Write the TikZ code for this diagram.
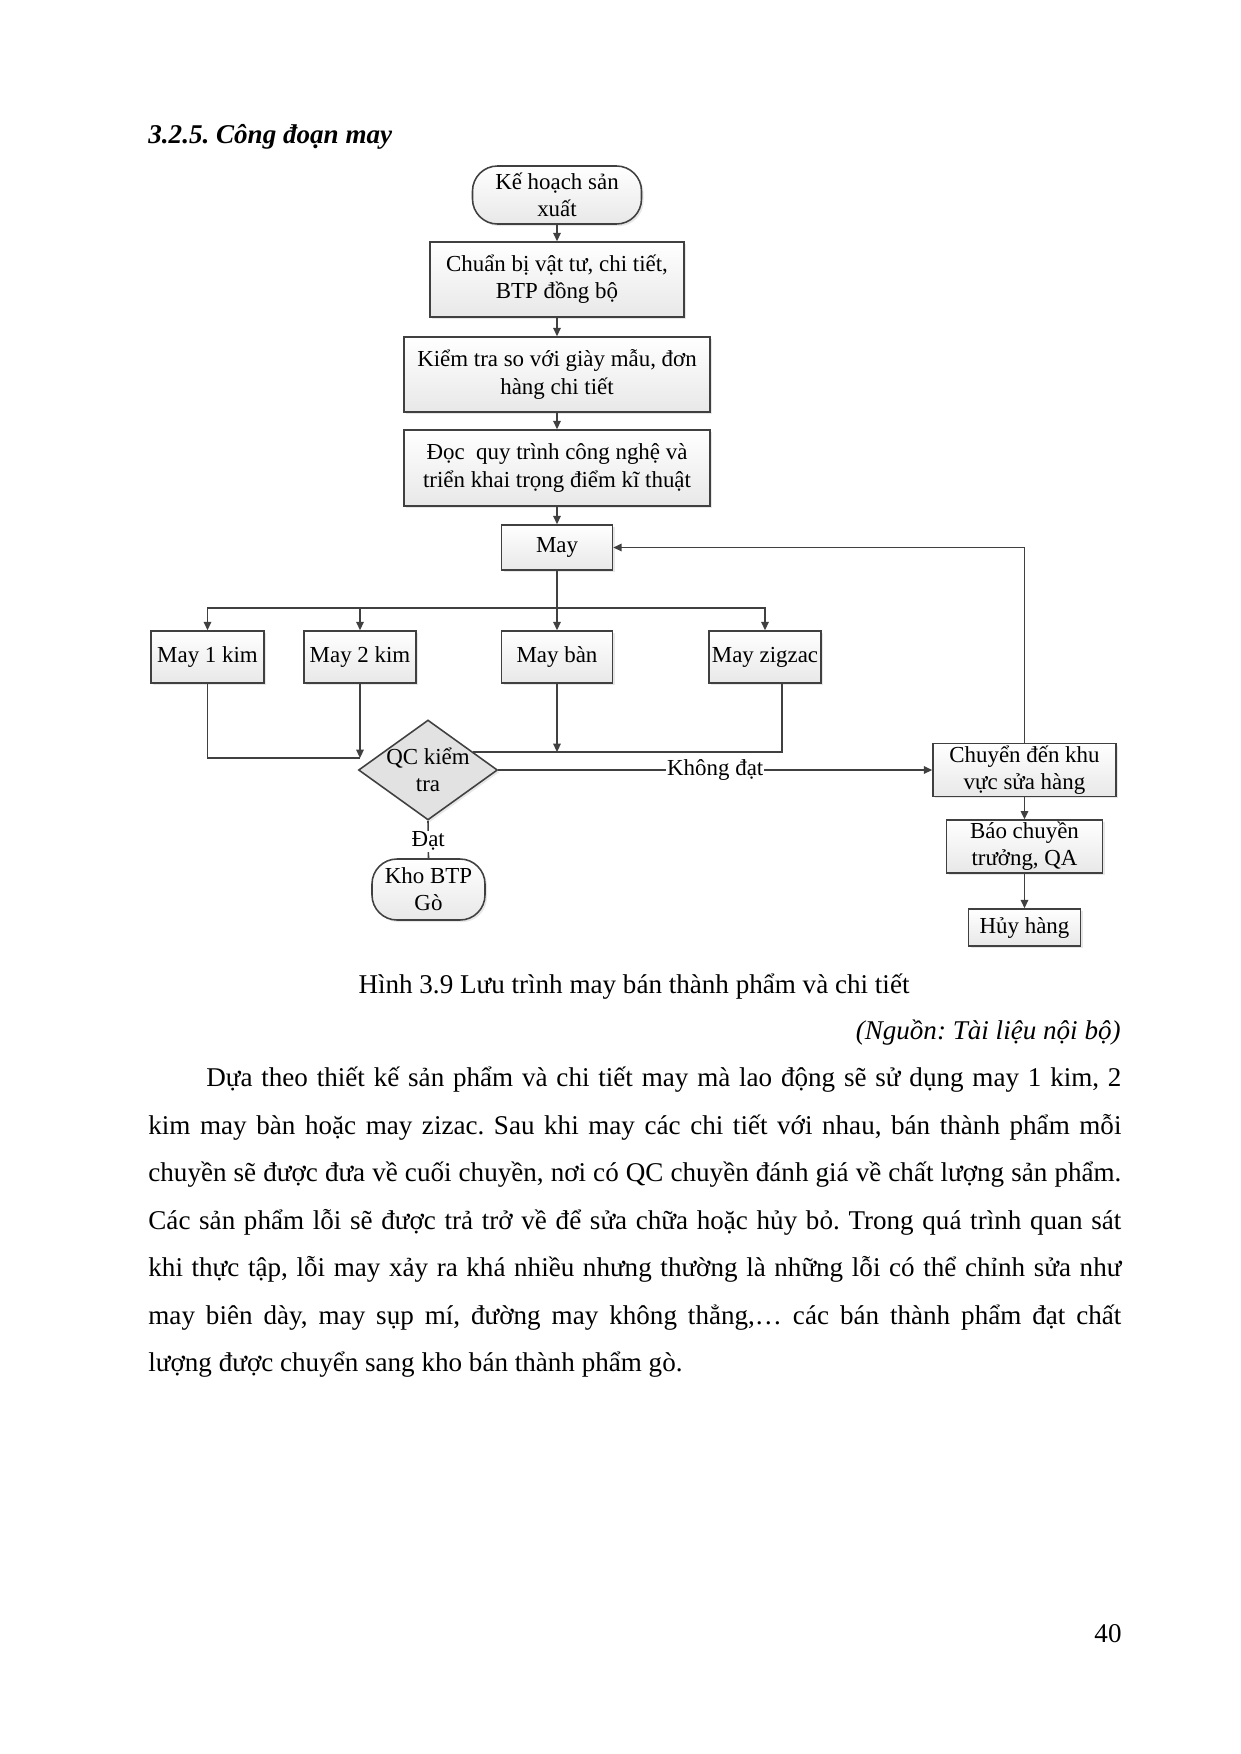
\documentclass[tikz,border=0pt]{standalone}
\usepackage{fontspec}
\setmainfont{Liberation Serif}
\usetikzlibrary{arrows.meta,shapes.geometric,shadows}
\frenchspacing
\def\pxx{*0.16933mm}
\definecolor{lineC}{HTML}{404040}
\definecolor{boxB}{HTML}{E8E8E8}
\definecolor{decF}{HTML}{E2E2E2}
\begin{document}
\begin{tikzpicture}[x=0.16933mm, y=-0.16933mm,
  font=\fontsize{11bp}{13bp}\selectfont,
  box/.style={draw=lineC, line width=0.75bp, top color=white, bottom color=boxB,
    align=center, inner sep=1bp,
    drop shadow={shadow xshift=1bp, shadow yshift=-1bp, fill=black!18}},
  term/.style={box, rounded corners=12bp},
  dec/.style={shape=diamond, draw=lineC, line width=0.75bp, fill=decF, align=center,
    inner sep=0pt, aspect=1.39, minimum width=139\pxx, minimum height=100\pxx,
    drop shadow={shadow xshift=1bp, shadow yshift=-1bp, fill=black!18}},
  conn/.style={draw=lineC, line width=0.75bp},
  arr/.style={conn, -{Triangle[length=4bp,width=3.6bp]}},
  lab/.style={fill=white, inner sep=0.5bp, font=\fontsize{11bp}{13bp}\selectfont},
  body/.style={font=\fontsize{13bp}{22.8bp}\selectfont, inner sep=0pt}
]
\useasboundingbox[fill=white] (0,0) rectangle (1240,1754);

% heading
\node[body, anchor=base west, font=\fontsize{13bp}{22.8bp}\selectfont\bfseries\itshape] (title) at (148,143) {3.2.5. Công đoạn may};

% flowchart nodes
\node[term, minimum width=169\pxx, minimum height=58\pxx] (start) at (557,195) {Kế hoạch sản\\xuất};
\node[box, minimum width=254\pxx, minimum height=75\pxx] (prep) at (557,279.5) {Chuẩn bị vật tư, chi tiết,\\BTP đồng bộ};
\node[box, minimum width=306\pxx, minimum height=75\pxx] (check) at (557,374.5) {Kiểm tra so với giày mẫu, đơn\\hàng chi tiết};
\node[box, minimum width=306\pxx, minimum height=76\pxx] (read) at (557,468) {Đọc\ \ quy trình công nghệ và\\triển khai trọng điểm kĩ thuật};
\node[box, minimum width=111\pxx, minimum height=45\pxx] (may) at (557,547.5) {May};

\node[box, minimum width=113\pxx, minimum height=52\pxx] (m1) at (207.5,657) {May 1 kim};
\node[box, minimum width=112\pxx, minimum height=52\pxx] (m2) at (360,657) {May 2 kim};
\node[box, minimum width=111\pxx, minimum height=52\pxx] (mban) at (557,657) {May bàn};
\node[box, minimum width=112\pxx, minimum height=52\pxx] (mzz) at (765,657) {May zigzac};

\node[dec] (qc) at (428,770) {\makebox[0pt]{QC kiểm}\\\makebox[0pt]{tra}};
\node[term, minimum width=113\pxx, minimum height=61\pxx] (kho) at (428.5,889.5) {Kho BTP\\Gò};

\node[box, minimum width=183\pxx, minimum height=51\pxx] (rep) at (1024.5,770) {Chuyển đến khu\\vực sửa hàng};
\node[box, minimum width=156\pxx, minimum height=49\pxx] (bao) at (1024.5,846.5) {Báo chuyền\\trưởng, QA};
\node[box, minimum width=112\pxx, minimum height=37\pxx] (huy) at (1024.5,927.5) {Hủy hàng};

% helper coordinates
\coordinate (br) at (557,608);
\coordinate (j2) at (360,758);
\coordinate (jb) at (557,752);
\coordinate (jq) at (473,752);
\coordinate (zb) at (782,683);

% connectors
\draw[arr] (start) -- (prep);
\draw[arr] (prep) -- (check);
\draw[arr] (check) -- (read);
\draw[arr] (read) -- (may);
\draw[arr] (may) -- (mban);
\draw[arr] (br) -| (m1.north);
\draw[arr] (br) -| (m2.north);
\draw[arr] (br) -| (mzz.north);
\draw[conn] (m1.south) |- (j2);
\draw[arr] (m2.south) -- (j2);
\draw[arr] (mban.south) -- (jb);
\draw[conn] (zb) |- (jq);
\draw[arr] (qc.east) -- node[lab, pos=0.5] {Không đạt} (rep.west);
\draw[conn] (qc.south) -- node[lab, pos=0.55] {Đạt} (kho.north);
\draw[arr] (rep.north) |- (may.east);
\draw[arr] (rep) -- (bao);
\draw[arr] (bao) -- (huy);

% caption and text
\node[body, anchor=base] (cap) at (634,993) {Hình 3.9 Lưu trình may bán thành phẩm và chi tiết};
\node[body, anchor=base east, font=\fontsize{13bp}{22.8bp}\selectfont\itshape] (src) at (1121,1039) {(Nguồn: Tài liệu nội bộ)};

\node[body, anchor=north west, text width=973\pxx, align=justify] (para) at (148,1053) {\hyphenpenalty=10000\strut\hspace*{27.8bp}Dựa theo thiết kế sản phẩm và chi tiết may mà lao động sẽ sử dụng may 1 kim, 2\linebreak
kim may bàn hoặc may zizac. Sau khi may các chi tiết với nhau, bán thành phẩm mỗi\linebreak
chuyền sẽ được đưa về cuối chuyền, nơi có QC chuyền đánh giá về chất lượng sản phẩm.\linebreak
Các sản phẩm lỗi sẽ được trả trở về để sửa chữa hoặc hủy bỏ. Trong quá trình quan sát\linebreak
khi thực tập, lỗi may xảy ra khá nhiều nhưng thường là những lỗi có thể chỉnh sửa như\linebreak
may biên dày, may sụp mí, đường may không thẳng,… các bán thành phẩm đạt chất\linebreak
lượng được chuyển sang kho bán thành phẩm gò.};

\node[body, anchor=base] (pnum) at (1108,1642) {40};
\end{tikzpicture}
\end{document}
